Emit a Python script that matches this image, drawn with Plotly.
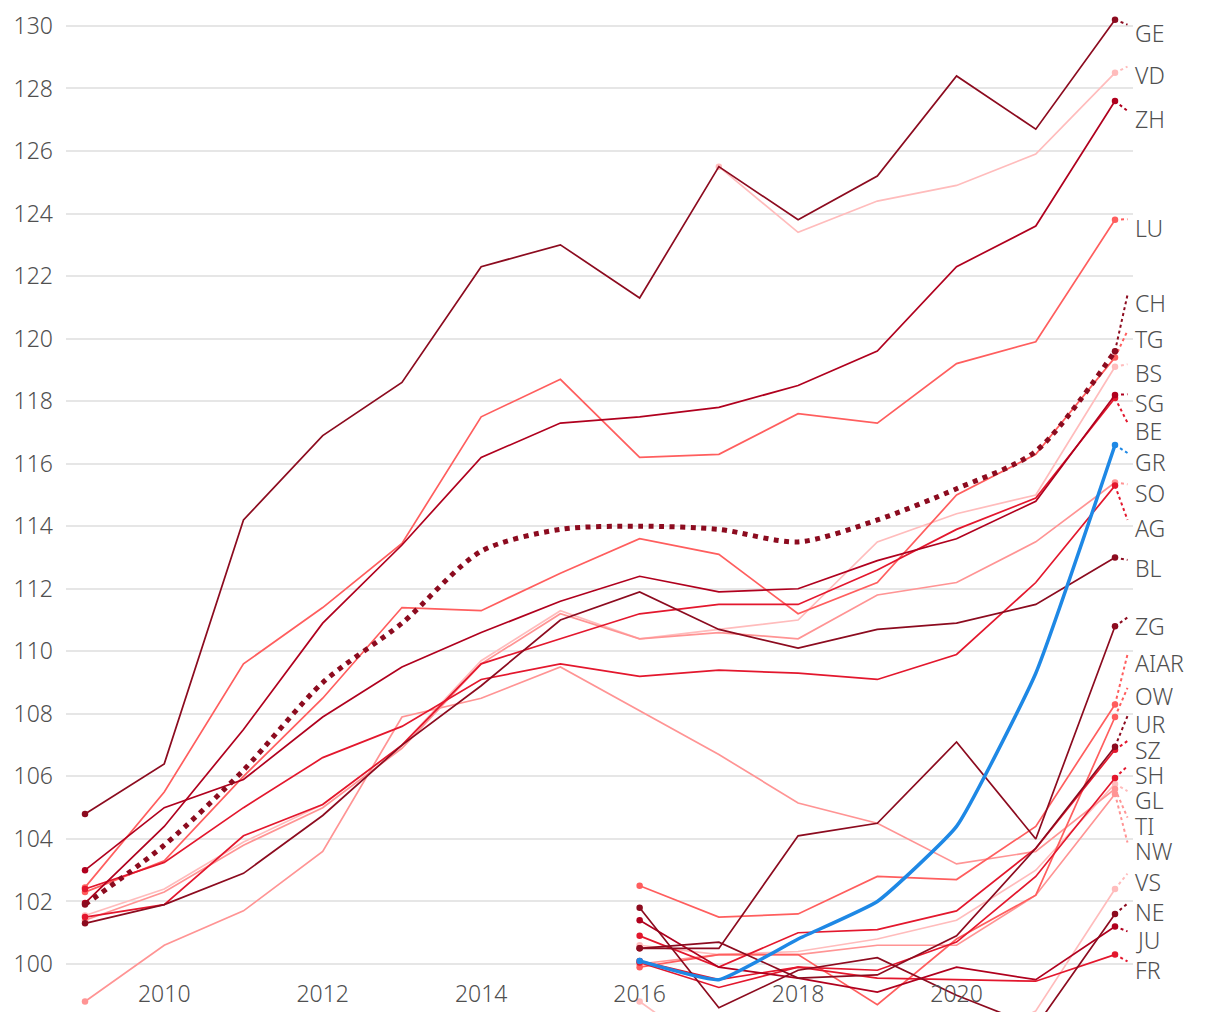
import plotly.graph_objects as go

# ---------------- data ----------------
years = list(range(2009, 2023))
years_2016 = years[7:]
years_2017 = years[8:]

GE = [104.8, 106.4, 114.2, 116.9, 118.6, 122.3, 123.0, 121.3, 125.5, 123.8, 125.2, 128.4, 126.7, 130.2]
VD = [125.5, 123.4, 124.4, 124.9, 125.9, 128.5]
ZH = [101.95, 104.4, 107.5, 110.9, 113.4, 116.2, 117.3, 117.5, 117.8, 118.5, 119.6, 122.3, 123.6, 127.6]
LU = [102.45, 105.5, 109.6, 111.4, 113.45, 117.5, 118.7, 116.2, 116.3, 117.6, 117.3, 119.2, 119.9, 123.8]
CH = [101.9, 103.8, 106.2, 109.0, 110.9, 113.2, 113.9, 114.0, 113.9, 113.5, 114.2, 115.2, 116.4, 119.6]
TG = [102.3, 103.3, 106.0, 108.5, 111.4, 111.3, 112.5, 113.6, 113.1, 111.2, 112.2, 115.0, 116.3, 119.4]
BS = [101.55, 102.4, 103.9, 105.1, 107.0, 109.7, 111.3, 110.4, 110.7, 111.0, 113.5, 114.4, 115.0, 119.1]
SG = [103.0, 105.0, 105.9, 107.9, 109.5, 110.6, 111.6, 112.4, 111.9, 112.0, 112.9, 113.6, 114.8, 118.2]
BE = [101.5, 101.9, 104.1, 105.1, 107.0, 109.6, 110.4, 111.2, 111.5, 111.5, 112.6, 113.9, 114.9, 118.1]
SO = [101.4, 102.3, 103.8, 105.0, 106.9, 109.6, 111.2, 110.4, 110.6, 110.4, 111.8, 112.2, 113.5, 115.4]
AG = [102.4, 103.25, 105.0, 106.6, 107.6, 109.1, 109.6, 109.2, 109.4, 109.3, 109.1, 109.9, 112.2, 115.3]
BL = [101.3, 101.9, 102.9, 104.75, 107.0, 108.9, 111.0, 111.9, 110.7, 110.1, 110.7, 110.9, 111.5, 113.0]
TI = [98.8, 100.6, 101.7, 103.6, 107.9, 108.5, 109.5, 108.1, 106.7, 105.15, 104.5, 103.2, 103.6, 105.6]

GR = [100.1, 99.5, 100.8, 102.0, 104.4, 109.3, 116.6]
ZG = [100.5, 100.5, 104.1, 104.5, 107.1, 104.0, 110.8]
AIAR = [102.5, 101.5, 101.6, 102.8, 102.7, 104.4, 108.3]
OW = [99.9, 100.3, 100.3, 98.7, 100.8, 102.2, 107.9]
UR = [100.5, 100.7, 99.55, 99.65, 100.9, 103.7, 106.95]
SZ = [100.9, 99.9, 101.0, 101.1, 101.7, 103.7, 106.85]
SH = [100.05, 99.25, 99.9, 99.8, 100.7, 102.8, 105.95]
GL = [100.6, 100.3, 100.4, 100.8, 101.4, 103.0, 105.76]
NW = [100.0, 100.3, 100.3, 100.6, 100.6, 102.2, 105.44]
VS = [98.8, 97.0, 96.5, 96.6, 97.2, 98.5, 102.4]
NE = [101.8, 98.6, 99.8, 100.2, 99.0, 98.0, 101.6]
JU = [101.4, 99.9, 99.55, 99.1, 99.9, 99.5, 101.2]
FR = [100.1, 99.5, 99.9, 99.55, 99.5, 99.45, 100.3]

y_ticks = list(range(100, 131, 2))
x_ticks = [2010, 2012, 2014, 2016, 2018, 2020, 2022]

# ---------------- styling / layout ----------------
C1 = "#8c0b1f"
C2 = "#b0001e"
C3 = "#e3172d"
C4 = "#ff5e5e"
C5 = "#ff9494"
C6 = "#ffbcbc"
BLUE = "#1e88e5"
TEXT = "#505050"
FONT = "Noto Sans"

series = {
    "GE": (years, GE, C1), "VD": (years_2017, VD, C6), "ZH": (years, ZH, C2),
    "LU": (years, LU, C4), "CH": (years, CH, C1), "TG": (years, TG, C4),
    "BS": (years, BS, C6), "SG": (years, SG, C2), "BE": (years, BE, C3),
    "GR": (years_2016, GR, BLUE), "SO": (years, SO, C5), "AG": (years, AG, C3),
    "BL": (years, BL, C1), "ZG": (years_2016, ZG, C1), "AIAR": (years_2016, AIAR, C4),
    "OW": (years_2016, OW, C4), "UR": (years_2016, UR, C1), "SZ": (years_2016, SZ, C3),
    "SH": (years_2016, SH, C3), "GL": (years_2016, GL, C6), "TI": (years, TI, C5),
    "NW": (years_2016, NW, C5), "VS": (years_2016, VS, C6), "NE": (years_2016, NE, C1),
    "JU": (years_2016, JU, C2), "FR": (years_2016, FR, C3),
}

# vertical placement of the end labels (value units)
label_pos = {
    "GE": 129.77, "VD": 128.43, "ZH": 127.01, "LU": 123.55, "CH": 121.13,
    "TG": 119.98, "BS": 118.91, "SG": 117.95, "BE": 117.04, "GR": 116.07,
    "SO": 115.07, "AG": 113.93, "BL": 112.65, "ZG": 110.81, "AIAR": 109.63,
    "OW": 108.56, "UR": 107.66, "SZ": 106.86, "SH": 106.06, "GL": 105.26,
    "TI": 104.41, "NW": 103.61, "VS": 102.62, "NE": 101.66, "JU": 100.77,
    "FR": 99.81,
}

draw_order = ["VD", "BS", "GL", "VS", "SO", "TI", "NW", "LU", "TG", "AIAR", "OW",
              "BE", "AG", "SZ", "SH", "FR", "ZH", "SG", "JU", "BL", "ZG", "UR",
              "NE", "GE", "CH", "GR"]

PX_PER_YEAR = 79.25
PX_PER_UNIT = 31.27
CONN_DX = 12.5 / PX_PER_YEAR
CONN_DY = 8.5 / PX_PER_UNIT

fig = go.Figure()

# connectors first (underneath)
for name in draw_order:
    xs, ys, col = series[name]
    fig.add_trace(go.Scatter(
        x=[xs[-1], xs[-1] + CONN_DX], y=[ys[-1], label_pos[name] + CONN_DY],
        mode="lines", line=dict(color=col, width=2, dash="3px,3px"),
        hoverinfo="skip", showlegend=False, cliponaxis=False))

for name in draw_order:
    xs, ys, col = series[name]
    if name == "CH":
        line = dict(color=col, width=5, dash="5px,5.5px", shape="spline", smoothing=0.8)
    elif name == "GR":
        line = dict(color=col, width=3.5, shape="spline", smoothing=0.4)
    else:
        line = dict(color=col, width=1.7)
    fig.add_trace(go.Scatter(x=xs, y=ys, mode="lines", line=line,
                             name=name, showlegend=False))
    fig.add_trace(go.Scatter(x=[xs[0], xs[-1]], y=[ys[0], ys[-1]], mode="markers",
                             marker=dict(color=col, size=6.5, line=dict(width=0)),
                             hoverinfo="skip", showlegend=False, cliponaxis=False))

for name in draw_order:
    xs, ys, col = series[name]
    fig.add_annotation(x=xs[-1], y=label_pos[name], xref="x", yref="y",
                       text=name, showarrow=False, xanchor="left", yanchor="middle",
                       xshift=18, font=dict(size=23, color=TEXT, family=FONT,
                                            weight=300))

fig.update_layout(
    width=1220, height=1020,
    margin=dict(l=66, r=87, t=10, b=8),
    paper_bgcolor="white", plot_bgcolor="white",
    font=dict(family=FONT, size=23, color=TEXT, weight=300),
    xaxis=dict(range=[2008.76, 2022.227], tickvals=x_ticks,
               ticktext=[str(v) for v in x_ticks],
               showgrid=False, zeroline=False, showline=False,
               ticks="", ticklabelposition="inside", ticklabelstandoff=2,
               tickfont=dict(size=23, color=TEXT, family=FONT, weight=300)),
    yaxis=dict(range=[98.465, 130.51], tickvals=y_ticks,
               ticktext=[str(v) for v in y_ticks],
               showgrid=True, gridcolor="#e6e6e6", gridwidth=1.6,
               zeroline=False, showline=False, ticks="",
               ticklabelstandoff=12,
               tickfont=dict(size=23, color=TEXT, family=FONT, weight=300)),
    hovermode=False,
)

fig.write_html("out.html", config={"displayModeBar": False},
               post_script="document.body.style.margin='0';document.body.style.overflow='hidden';")
